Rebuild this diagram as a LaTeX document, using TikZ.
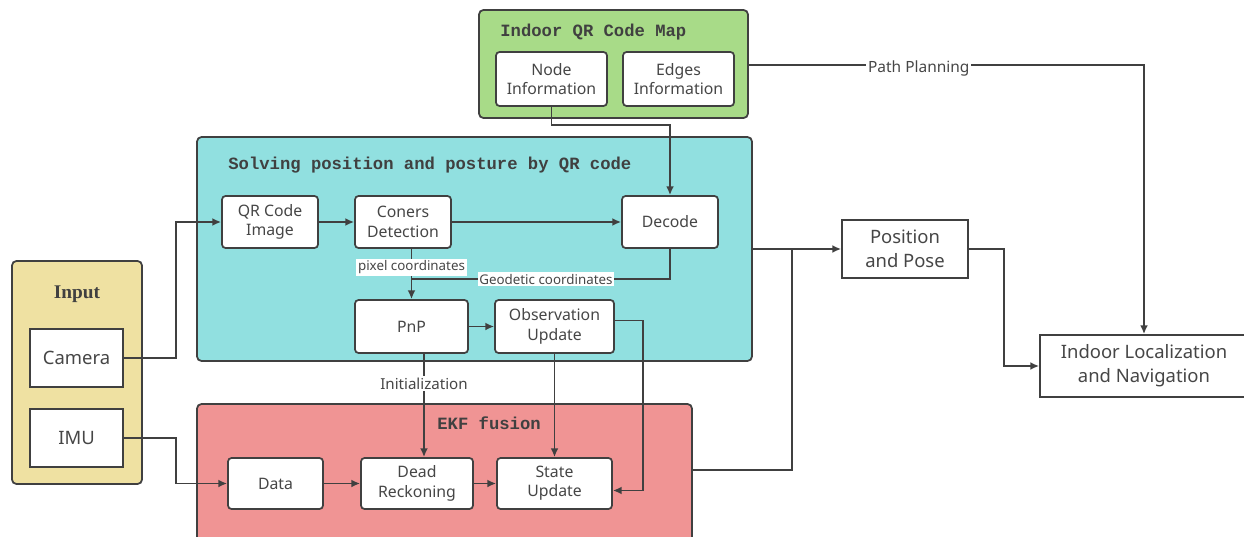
\documentclass[tikz,border=0pt]{standalone}
\usepackage{fontspec}
\setmainfont{Noto Sans}
\newfontfamily\titlefont{Liberation Mono}
\newfontfamily\inputfont{Liberation Serif}
\usetikzlibrary{arrows.meta}

\definecolor{mapgreen}{RGB}{168,219,136}
\definecolor{qrcyan}{RGB}{145,224,224}
\definecolor{inputyellow}{RGB}{239,225,162}
\definecolor{ekfred}{RGB}{240,148,148}
\definecolor{linegray}{RGB}{64,64,64}
\definecolor{textgray}{RGB}{70,70,70}

\tikzset{
  group/.style={draw=linegray, line width=1pt, rounded corners=2.5pt},
  block/.style={draw=linegray, fill=white, line width=1pt, rounded corners=2pt,
    align=center, text=textgray, inner sep=0pt, font=\fontsize{9}{11}\selectfont},
  outblock/.style={draw=linegray, fill=white, line width=1pt,
    align=center, text=textgray, inner sep=0pt, font=\fontsize{10.5}{13.5}\selectfont},
  grouptitle/.style={inner sep=0pt, text=linegray, font=\titlefont\bfseries\fontsize{9.8}{12}\selectfont},
  edgelabel/.style={fill=white, inner sep=1pt, text=textgray, font=\fontsize{7.6}{9}\selectfont},
  conn/.style={draw=linegray, line width=1pt}
}

\begin{document}
\begin{tikzpicture}[x=0.02cm, y=-0.02cm, >={Latex[length=5pt,width=4.5pt]}]
  \useasboundingbox (0,0) rectangle (1244,537);

  % group boxes
  \node[group, fill=mapgreen, minimum width=5.38cm, minimum height=2.16cm] (map) at (613.5,64) {};
  \node[group, fill=qrcyan, minimum width=11.1cm, minimum height=4.48cm] (qrbox) at (474.5,249) {};
  \node[group, fill=inputyellow, minimum width=2.6cm, minimum height=4.46cm] (inputbox) at (77,372.5) {};
  \node[group, fill=ekfred, minimum width=9.9cm, minimum height=2.82cm] (ekfbox) at (444.5,474.5) {};

  \node[grouptitle, anchor=west] at (500,32) {Indoor QR Code Map};
  \node[grouptitle, anchor=west] at (228,165) {Solving position and posture by QR code};
  \node[inner sep=0pt, text=linegray, font=\inputfont\bfseries\fontsize{11}{13}\selectfont] at (77,294) {Input};
  \node[grouptitle, anchor=west] at (437,423) {EKF fusion};

  % blocks
  \node[block, minimum width=2.22cm, minimum height=1.08cm] (nodeinfo) at (551.5,79) {Node\\Information};
  \node[block, minimum width=2.22cm, minimum height=1.08cm] (edgeinfo) at (678.5,79) {Edges\\Information};
  \node[block, minimum width=1.92cm, minimum height=1.04cm] (qrimg) at (270,222) {QR Code\\Image};
  \node[block, minimum width=1.92cm, minimum height=1.04cm] (corners) at (403,222) {Coners\\Detection};
  \node[block, minimum width=1.92cm, minimum height=1.04cm] (decode) at (670,222) {Decode};
  \node[block, minimum width=2.26cm, minimum height=1.06cm] (pnp) at (411.5,326.5) {PnP};
  \node[block, minimum width=2.38cm, minimum height=1.06cm] (obsupd) at (554.5,326.5) {Observation\\Update};
  \node[outblock, minimum width=1.86cm, minimum height=1.16cm] (camera) at (76.5,358) {Camera};
  \node[outblock, minimum width=1.86cm, minimum height=1.16cm] (imu) at (76.5,438) {IMU};
  \node[block, minimum width=1.9cm, minimum height=1.02cm] (data) at (275.5,483.5) {Data};
  \node[block, minimum width=2.24cm, minimum height=1.02cm] (deadrec) at (417,483.5) {Dead\\Reckoning};
  \node[block, minimum width=2.3cm, minimum height=1.02cm] (stateupd) at (554.5,483.5) {State\\Update};
  \node[outblock, minimum width=2.52cm, minimum height=1.16cm] (pose) at (905,249) {Position\\and Pose};
  \node[outblock, minimum width=4.16cm, minimum height=1.24cm] (nav) at (1144,366) {Indoor Localization\\and Navigation};

  \path (pnp.north) ++(0,-20) coordinate (geo);
  \coordinate (merge) at (792,249);

  % connectors
  \draw[conn,->] ([yshift=-0.02cm]map.east) -| (nav.north) node[pos=0.215, edgelabel, yshift=-0.06cm, font=\fontsize{8.8}{10}\selectfont]{Path Planning};
  \draw[conn,->] (nodeinfo.south) -- ++(0,18) -| (decode.north);
  \draw[conn,->] (camera.east) -- ++(52,0) |- (qrimg.west);
  \draw[conn,->] (qrimg) -- (corners);
  \draw[conn,->] (corners) -- (decode);
  \draw[conn,->] (pnp.north |- corners.south) -- (pnp.north) node[pos=0.37, edgelabel]{pixel coordinates};
  \draw[conn] (decode.south) |- (geo) node[pos=0.74, edgelabel]{Geodetic coordinates};
  \draw[conn,->] (pnp) -- (obsupd);
  \draw[conn,->] ([xshift=0.25cm]pnp.south) -- ([xshift=0.25cm]pnp.south |- deadrec.north) node[pos=0.29, edgelabel, font=\fontsize{8.6}{10}\selectfont]{Initialization};
  \draw[conn,->] (obsupd) -- (stateupd);
  \draw[conn,->] ([yshift=0.12cm]obsupd.east) -- ++(28,0) |- ([yshift=-0.14cm]stateupd.east);
  \draw[conn,->] (imu.east) -- ++(52,0) |- (data.west);
  \draw[conn,->] (data) -- (deadrec);
  \draw[conn,->] (deadrec) -- (stateupd);
  \draw[conn] ([yshift=0.09cm]ekfbox.east) -| (merge);
  \draw[conn,->] (qrbox.east) -- (pose.west);
  \draw[conn,->] (pose.east) -- ++(35,0) |- (nav.west);
\end{tikzpicture}
\end{document}
